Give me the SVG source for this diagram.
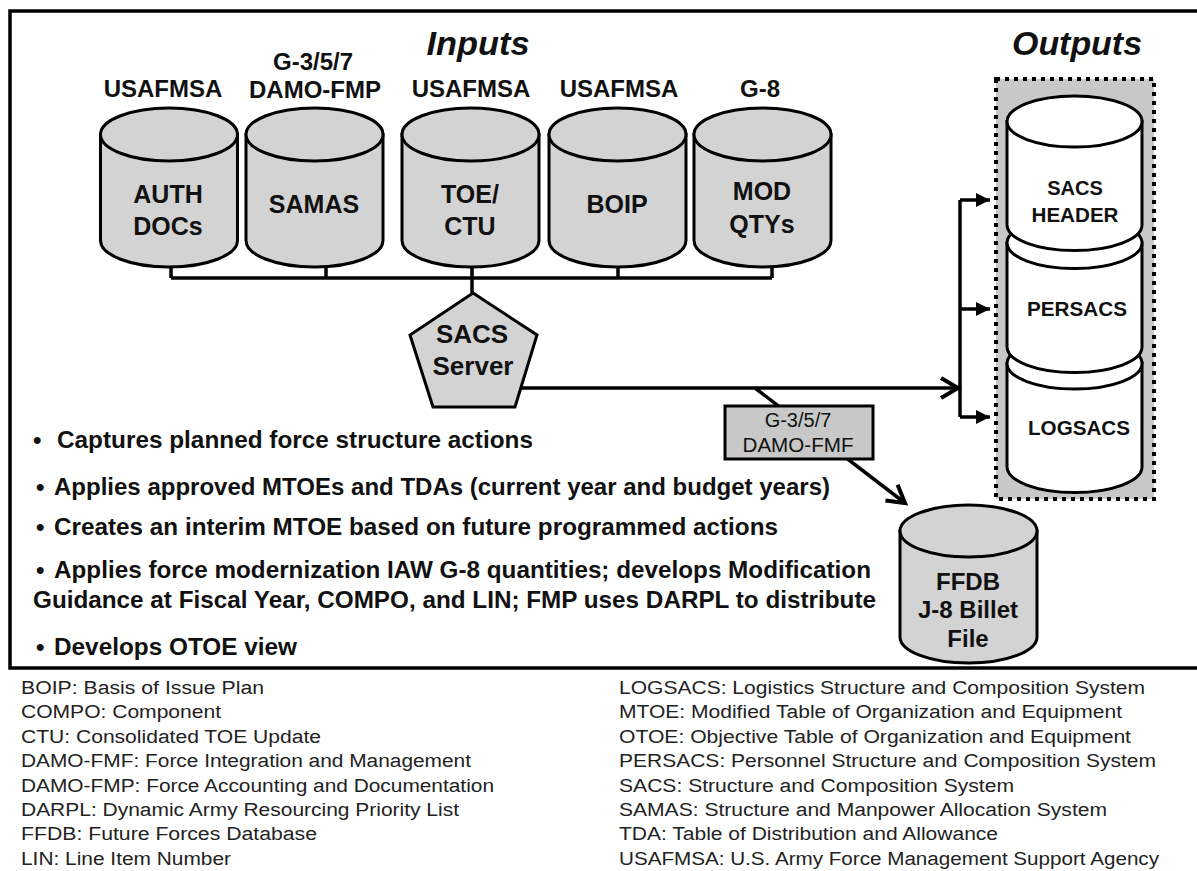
<svg xmlns="http://www.w3.org/2000/svg" width="1197" height="871" viewBox="0 0 1197 871">
<style>
text{font-family:"Liberation Sans",Arial,sans-serif;fill:#111}
.b{font-weight:bold}
.lbl{font-weight:bold;font-size:24px;text-anchor:middle}
.cyl{font-weight:bold;font-size:25px;text-anchor:middle}
.out{font-weight:bold;font-size:20px;text-anchor:middle}
.hd{font-weight:bold;font-style:italic;font-size:34px;text-anchor:middle}
.bul{font-weight:bold;font-size:24px}
.leg{font-size:18px;fill:#222}
.g{fill:#d3d3d3;stroke:#000;stroke-width:3}
.w{fill:#fff;stroke:#000;stroke-width:3}
.ln{fill:none;stroke:#000;stroke-width:3.5}
</style>
<defs>
<marker id="open" viewBox="0 0 24 24" refX="20" refY="12" markerWidth="24" markerHeight="24" markerUnits="userSpaceOnUse" orient="auto"><path d="M3,2 L20,12 L3,22" fill="none" stroke="#000" stroke-width="4"/></marker>
<marker id="fill" viewBox="0 0 14 14" refX="14" refY="7" markerWidth="14" markerHeight="14" markerUnits="userSpaceOnUse" orient="auto"><path d="M0,0 L14,7 L0,14 Z" fill="#000"/></marker>
</defs>
<rect x="0" y="0" width="1197" height="871" fill="#fff"/>
<rect x="10" y="11" width="1195" height="657" fill="none" stroke="#000" stroke-width="3.5"/>

<text class="hd" x="478" y="55" textLength="103" lengthAdjust="spacingAndGlyphs">Inputs</text>
<text class="hd" x="1077" y="55" textLength="130" lengthAdjust="spacingAndGlyphs">Outputs</text>

<rect x="996" y="79" width="158" height="420" fill="#c8c8c8" stroke="#000" stroke-width="4" stroke-dasharray="4 5"/>

<g id="connectors">
<path class="ln" d="M171,267 V278 M326,267 V278 M618,267 V278 M772,267 V278 M472,267 V293 M171,278 H772"/>
<path class="ln" d="M521,388 H958" marker-end="url(#open)"/>
<path class="ln" d="M755,388 L905,503" marker-end="url(#open)"/>
<path class="ln" d="M960,200 V417"/>
<path class="ln" d="M960,200 H990" marker-end="url(#fill)"/>
<path class="ln" d="M960,309 H990" marker-end="url(#fill)"/>
<path class="ln" d="M960,417 H990" marker-end="url(#fill)"/>
</g>

<g id="auth-docs">
<text class="lbl" x="163" y="97">USAFMSA</text>
<path class="g" d="M100.5,134.5 V240.5 A68.5,26.5 0 0 0 237.5,240.5 V134.5 Z"/>
<ellipse class="g" cx="169" cy="134.5" rx="68.5" ry="26.5"/>
<text class="cyl" x="168" y="203">AUTH</text>
<text class="cyl" x="168" y="235">DOCs</text>
</g>
<g id="samas">
<text class="lbl" x="313" y="70">G-3/5/7</text>
<text class="lbl" x="315" y="98">DAMO-FMP</text>
<path class="g" d="M246,134.5 V240.5 A68.5,26.5 0 0 0 383,240.5 V134.5 Z"/>
<ellipse class="g" cx="314.5" cy="134.5" rx="68.5" ry="26.5"/>
<text class="cyl" x="314" y="213">SAMAS</text>
</g>
<g id="toe-ctu">
<text class="lbl" x="471" y="97">USAFMSA</text>
<path class="g" d="M402,134.5 V240.5 A68.5,26.5 0 0 0 539,240.5 V134.5 Z"/>
<ellipse class="g" cx="470.5" cy="134.5" rx="68.5" ry="26.5"/>
<text class="cyl" x="470" y="203">TOE/</text>
<text class="cyl" x="470" y="235">CTU</text>
</g>
<g id="boip">
<text class="lbl" x="619" y="97">USAFMSA</text>
<path class="g" d="M549,134.5 V240.5 A68.5,26.5 0 0 0 686,240.5 V134.5 Z"/>
<ellipse class="g" cx="617.5" cy="134.5" rx="68.5" ry="26.5"/>
<text class="cyl" x="617" y="213">BOIP</text>
</g>
<g id="mod-qtys">
<text class="lbl" x="760" y="97">G-8</text>
<path class="g" d="M694,134.5 V240.5 A68.5,26.5 0 0 0 831,240.5 V134.5 Z"/>
<ellipse class="g" cx="762.5" cy="134.5" rx="68.5" ry="26.5"/>
<text class="cyl" x="762" y="200">MOD</text>
<text class="cyl" x="762" y="233">QTYs</text>
</g>

<g id="sacs-server">
<polygon points="473,293 537,335 515,407 433,407 410,335" fill="#d3d3d3" stroke="#000" stroke-width="3"/>
<text class="b" x="472" y="343" font-size="26" text-anchor="middle">SACS</text>
<text class="b" x="473" y="375" font-size="26" text-anchor="middle">Server</text>
</g>

<g id="damo-fmf">
<rect x="725" y="406" width="148" height="53" fill="#c8c8c8" stroke="#000" stroke-width="3"/>
<text x="798" y="427" font-size="20" text-anchor="middle">G-3/5/7</text>
<text x="798" y="452" font-size="20" text-anchor="middle" textLength="111" lengthAdjust="spacingAndGlyphs">DAMO-FMF</text>
</g>

<g id="logsacs">
<path class="w" d="M1007,363.5 V467 A67.5,25.5 0 0 0 1142,467 V363.5 Z"/>
<ellipse class="w" cx="1074.5" cy="363.5" rx="67.5" ry="25.5"/>
<text class="out" x="1079" y="435" textLength="102" lengthAdjust="spacingAndGlyphs">LOGSACS</text>
</g>
<g id="persacs">
<path class="w" d="M1007,243 V347 A67.5,25.5 0 0 0 1142,347 V243 Z"/>
<ellipse class="w" cx="1074.5" cy="243" rx="67.5" ry="25.5"/>
<text class="out" x="1077" y="316" textLength="100" lengthAdjust="spacingAndGlyphs">PERSACS</text>
</g>
<g id="sacs-header">
<path class="w" d="M1007,121.5 V225 A67.5,25.5 0 0 0 1142,225 V121.5 Z"/>
<ellipse class="w" cx="1074.5" cy="121.5" rx="67.5" ry="25.5"/>
<text class="out" x="1075" y="195">SACS</text>
<text class="out" x="1075" y="222" textLength="87" lengthAdjust="spacingAndGlyphs">HEADER</text>
</g>

<g id="ffdb">
<path class="g" d="M900,531 V637 A68.5,26 0 0 0 1037,637 V531 Z"/>
<ellipse class="g" cx="968.5" cy="531" rx="68.5" ry="26"/>
<text class="b" x="968" y="590" font-size="24" text-anchor="middle">FFDB</text>
<text class="b" x="968" y="618" font-size="24" text-anchor="middle">J-8 Billet</text>
<text class="b" x="968" y="647" font-size="24" text-anchor="middle">File</text>
</g>

<g id="bullets">
<text class="bul" x="33" y="448">•</text>
<text class="bul" x="57" y="448" textLength="476" lengthAdjust="spacingAndGlyphs">Captures planned force structure actions</text>
<text class="bul" x="36" y="495">•</text>
<text class="bul" x="54" y="495" textLength="776" lengthAdjust="spacingAndGlyphs">Applies approved MTOEs and TDAs (current year and budget years)</text>
<text class="bul" x="36" y="535">•</text>
<text class="bul" x="54" y="535" textLength="724" lengthAdjust="spacingAndGlyphs">Creates an interim MTOE based on future programmed actions</text>
<text class="bul" x="36" y="578">•</text>
<text class="bul" x="54" y="578" textLength="817" lengthAdjust="spacingAndGlyphs">Applies force modernization IAW G-8 quantities; develops Modification</text>
<text class="bul" x="33" y="608" textLength="843" lengthAdjust="spacingAndGlyphs">Guidance at Fiscal Year, COMPO, and LIN; FMP uses DARPL to distribute</text>
<text class="bul" x="36" y="655">•</text>
<text class="bul" x="54" y="655" textLength="243" lengthAdjust="spacingAndGlyphs">Develops OTOE view</text>
</g>

<g id="legend">
<text class="leg" x="21" y="694" textLength="243" lengthAdjust="spacingAndGlyphs">BOIP:  Basis of Issue Plan</text>
<text class="leg" x="21" y="718" textLength="200" lengthAdjust="spacingAndGlyphs">COMPO:  Component</text>
<text class="leg" x="21" y="743" textLength="300" lengthAdjust="spacingAndGlyphs">CTU:  Consolidated TOE Update</text>
<text class="leg" x="21" y="767" textLength="450" lengthAdjust="spacingAndGlyphs">DAMO-FMF:  Force Integration and Management</text>
<text class="leg" x="21" y="792" textLength="473" lengthAdjust="spacingAndGlyphs">DAMO-FMP:  Force Accounting and Documentation</text>
<text class="leg" x="21" y="816" textLength="438" lengthAdjust="spacingAndGlyphs">DARPL:  Dynamic Army Resourcing Priority List</text>
<text class="leg" x="21" y="840" textLength="296" lengthAdjust="spacingAndGlyphs">FFDB:  Future Forces Database</text>
<text class="leg" x="21" y="865" textLength="210" lengthAdjust="spacingAndGlyphs">LIN:  Line Item Number</text>
<text class="leg" x="619" y="694" textLength="526" lengthAdjust="spacingAndGlyphs">LOGSACS:  Logistics Structure and Composition System</text>
<text class="leg" x="619" y="718" textLength="503" lengthAdjust="spacingAndGlyphs">MTOE:  Modified Table of Organization and Equipment</text>
<text class="leg" x="619" y="743" textLength="512" lengthAdjust="spacingAndGlyphs">OTOE:  Objective Table of Organization and Equipment</text>
<text class="leg" x="619" y="767" textLength="537" lengthAdjust="spacingAndGlyphs">PERSACS:  Personnel Structure and Composition System</text>
<text class="leg" x="619" y="792" textLength="395" lengthAdjust="spacingAndGlyphs">SACS:  Structure and Composition System</text>
<text class="leg" x="619" y="816" textLength="488" lengthAdjust="spacingAndGlyphs">SAMAS:  Structure and Manpower Allocation System</text>
<text class="leg" x="619" y="840" textLength="379" lengthAdjust="spacingAndGlyphs">TDA:  Table of Distribution and Allowance</text>
<text class="leg" x="619" y="865" textLength="540" lengthAdjust="spacingAndGlyphs">USAFMSA:  U.S. Army Force Management Support Agency</text>
</g>
</svg>
